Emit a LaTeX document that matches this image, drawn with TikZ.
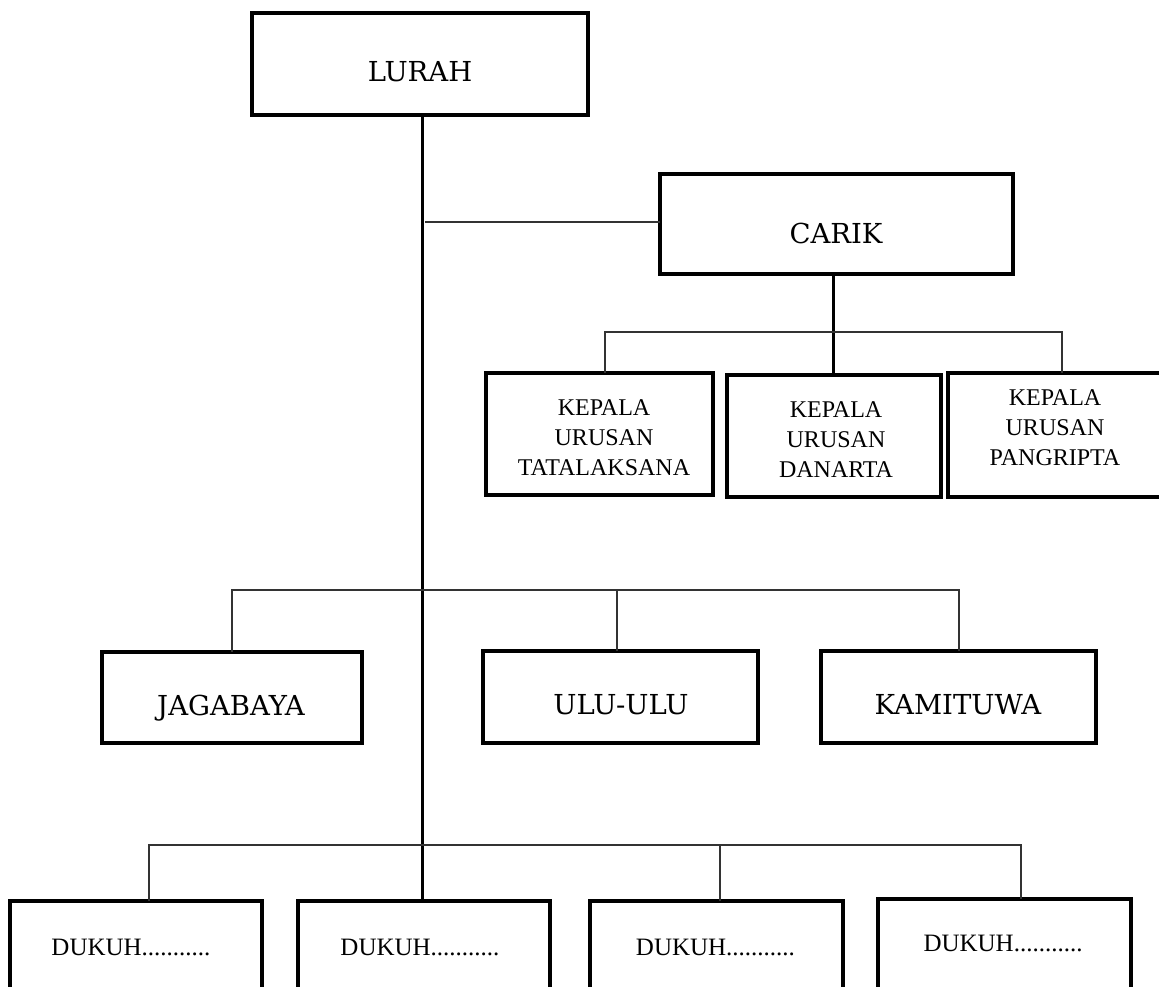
\documentclass[tikz,border=0pt]{standalone}
\usepackage{fontspec}
\setmainfont{Liberation Serif}
\newfontfamily\schfont{DejaVu Serif}
\begin{document}
\begin{tikzpicture}[x=1pt,y=-1pt,
  box/.style={draw=black,line width=3.2pt,inner sep=0pt,outer sep=0pt},
  big/.style={font=\schfont\fontsize{27.5}{33}\selectfont,inner sep=0pt},
  mid/.style={font=\fontsize{24}{30}\selectfont,align=center,inner sep=0pt},
  small/.style={font=\fontsize{25}{30}\selectfont,inner sep=0pt},
  trunk/.style={line width=3pt,draw=black},
  link/.style={line width=1.7pt,draw=black!80}]
\useasboundingbox (0,0) rectangle (1159,986);
\clip (0,0) rectangle (1159,986);

% boxes
\node[box,minimum width=336pt,minimum height=102pt] (lurah) at (420,64) {};
\node[box,minimum width=353pt,minimum height=100pt] (carik) at (836.5,224) {};
\node[box,minimum width=227pt,minimum height=122pt] (kp1) at (599.5,434) {};
\node[box,minimum width=214pt,minimum height=122pt] (kp2) at (834,436) {};
\node[box,minimum width=217pt,minimum height=124pt] (kp3) at (1056.5,435) {};
\node[box,minimum width=260pt,minimum height=91pt] (jaga) at (232,697.5) {};
\node[box,minimum width=275pt,minimum height=92pt] (ulu) at (620.5,697) {};
\node[box,minimum width=275pt,minimum height=92pt] (kami) at (958.5,697) {};
\node[box,minimum width=252pt,minimum height=92pt] (dk1) at (136,947) {};
\node[box,minimum width=252pt,minimum height=92pt] (dk2) at (424,947) {};
\node[box,minimum width=253pt,minimum height=92pt] (dk3) at (716.5,947) {};
\node[box,minimum width=253pt,minimum height=92pt] (dk4) at (1004.5,945) {};

% texts
\node[big] (lurahT) at (420,72) {LURAH};
\node[big] (carikT) at (836,233) {CARIK};
\node[mid] (kp1T) at (604,438) {KEPALA\\URUSAN\\TATALAKSANA};
\node[mid] (kp2T) at (836,440) {KEPALA\\URUSAN\\DANARTA};
\node[mid] (kp3T) at (1055,428) {KEPALA\\URUSAN\\PANGRIPTA};
\node[big] (jagaT) at (231,708) {JAGABAYA};
\node[big] (uluT) at (621,705) {ULU-ULU};
\node[big] (kamiT) at (958,705) {KAMITUWA};
\node[small] (dk1T) at (131,947) {DUKUH...........};
\node[small] (dk2T) at (420,947) {DUKUH...........};
\node[small] (dk3T) at (715.5,947) {DUKUH...........};
\node[small] (dk4T) at (1003,943) {DUKUH...........};

% coordinates for connectors
\coordinate (mtop) at (422,115);
\coordinate (mbot) at (422,901);
\coordinate (cb) at (425,222);
\coordinate (cvt) at (833,274);
\coordinate (cvb) at (833,375);
\coordinate (b1l) at (605,332);
\coordinate (b1r) at (1062,332);
\coordinate (b2l) at (232,590);
\coordinate (b2m) at (617,590);
\coordinate (b2r) at (959,590);
\coordinate (b3l) at (149,845);
\coordinate (b3m) at (720,845);
\coordinate (b3r) at (1021,845);

% trunk lines
\draw[trunk] (mtop) -- (mbot);
\draw[trunk] (cvt) -- (cvb);

% thin links
\draw[link] (cb) -- (cb -| carik.west);
\draw[link] (b1l |- kp1.north) -- (b1l) -- (b1r) -- (b1r |- kp3.north);
\draw[link] (b2l |- jaga.north) -- (b2l) -- (b2r) -- (b2r |- kami.north);
\draw[link] (b2m) -- (b2m |- ulu.north);
\draw[link] (b3l |- dk1.north) -- (b3l) -- (b3r) -- (b3r |- dk4.north);
\draw[link] (b3m) -- (b3m |- dk3.north);
\end{tikzpicture}
\end{document}
